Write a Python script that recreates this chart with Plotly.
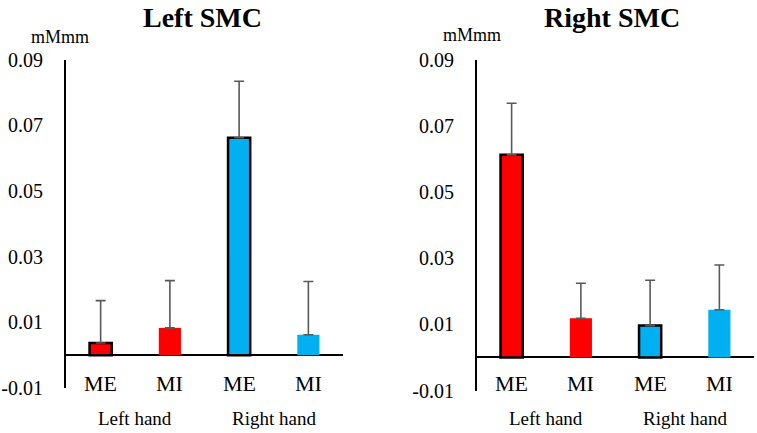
import plotly.graph_objects as go

W, H = 757, 433

# ---- data ----
conditions = ["ME", "MI", "ME", "MI"]
hands = ["Left hand", "Right hand"]
panel_titles = ["Left SMC", "Right SMC"]
unit_label = "mMmm"
y_tick_vals = [-0.01, 0.01, 0.03, 0.05, 0.07, 0.09]
y_tick_text = ["-0.01", "0.01", "0.03", "0.05", "0.07", "0.09"]

left_smc_values = [0.0037, 0.0083, 0.0662, 0.0062]
left_smc_err_top = [0.0166, 0.0227, 0.0834, 0.0224]
right_smc_values = [0.0612, 0.0118, 0.0096, 0.0144]
right_smc_err_top = [0.0768, 0.0224, 0.0233, 0.0279]

RED = "#FF0000"
BLUE = "#00B0F0"
bar_colors = [RED, RED, BLUE, BLUE]
outline_widths = [2.5, 0, 2.5, 0]

FONT = "Liberation Serif"

def px_x(x):
    return x / W

def px_y(y):
    return 1 - y / H

fig = go.Figure()

panels = [
    dict(vals=left_smc_values, tops=left_smc_err_top, xa="x", ya="y",
         xdom=[px_x(66), px_x(343)], ydom=[px_y(388), px_y(59.5)]),
    dict(vals=right_smc_values, tops=right_smc_err_top, xa="x2", ya="y2",
         xdom=[px_x(477), px_x(754)], ydom=[px_y(390.5), px_y(59.5)]),
]

xpos = list(range(len(conditions)))

for i, p in enumerate(panels):
    err = [t - v for t, v in zip(p["tops"], p["vals"])]
    fig.add_trace(go.Bar(
        x=xpos, y=p["vals"], xaxis=p["xa"], yaxis=p["ya"],
        width=0.32,
        marker=dict(color=bar_colors, line=dict(color="black", width=outline_widths)),
        error_y=dict(type="data", symmetric=False, array=err,
                     arrayminus=[0] * len(err), color="#595959",
                     thickness=1.6, width=5),
        showlegend=False,
    ))
    sfx = "" if i == 0 else "2"
    fig.layout["xaxis" + sfx] = dict(
        domain=p["xdom"], anchor="y" + sfx, range=[-0.5, 3.5],
        showticklabels=False, showgrid=False, zeroline=False, showline=False,
        fixedrange=True, automargin=False,
    )
    fig.layout["yaxis" + sfx] = dict(
        domain=p["ydom"], anchor="x" + sfx, range=[-0.01, 0.09],
        tickvals=y_tick_vals, ticktext=y_tick_text,
        ticks="outside", ticklen=17, tickcolor="rgba(0,0,0,0)",
        tickfont=dict(family=FONT, size=20, color="black"),
        showgrid=False, showline=True, linecolor="black", linewidth=2,
        zeroline=True, zerolinecolor="black", zerolinewidth=2,
        automargin=False,
    )

annotations = []
# titles and unit labels
title_x = [202, 612]
unit_x = [60, 472]
unit_y = [37, 35]
for i in range(2):
    annotations.append(dict(text="<b>" + panel_titles[i] + "</b>", x=px_x(title_x[i]), y=px_y(18),
                            xref="paper", yref="paper", showarrow=False,
                            xanchor="center", yanchor="middle",
                            font=dict(family=FONT, size=28, color="black")))
    annotations.append(dict(text=unit_label, x=px_x(unit_x[i]), y=px_y(unit_y[i]),
                            xref="paper", yref="paper", showarrow=False,
                            xanchor="center", yanchor="middle",
                            font=dict(family=FONT, size=18, color="black")))
    xr = "x" if i == 0 else "x2"
    for j, c in enumerate(conditions):
        annotations.append(dict(text=c, x=xpos[j], y=px_y(383), xref=xr, yref="paper",
                                showarrow=False, xanchor="center", yanchor="middle",
                                font=dict(family=FONT, size=22, color="black")))
    for k, h in enumerate(hands):
        annotations.append(dict(text=h, x=(xpos[2 * k] + xpos[2 * k + 1]) / 2, y=px_y(418),
                                xref=xr, yref="paper", showarrow=False,
                                xanchor="center", yanchor="middle",
                                font=dict(family=FONT, size=19, color="black")))

fig.update_layout(
    width=W, height=H,
    margin=dict(l=0, r=0, t=0, b=0, pad=0),
    paper_bgcolor="white", plot_bgcolor="white",
    font=dict(family=FONT, color="black"),
    annotations=annotations,
    bargap=0.68,
)

fig.write_html(
    "out.html",
    config={"displayModeBar": False},
    post_script="document.body.style.margin='0';document.body.style.overflow='hidden';",
)
